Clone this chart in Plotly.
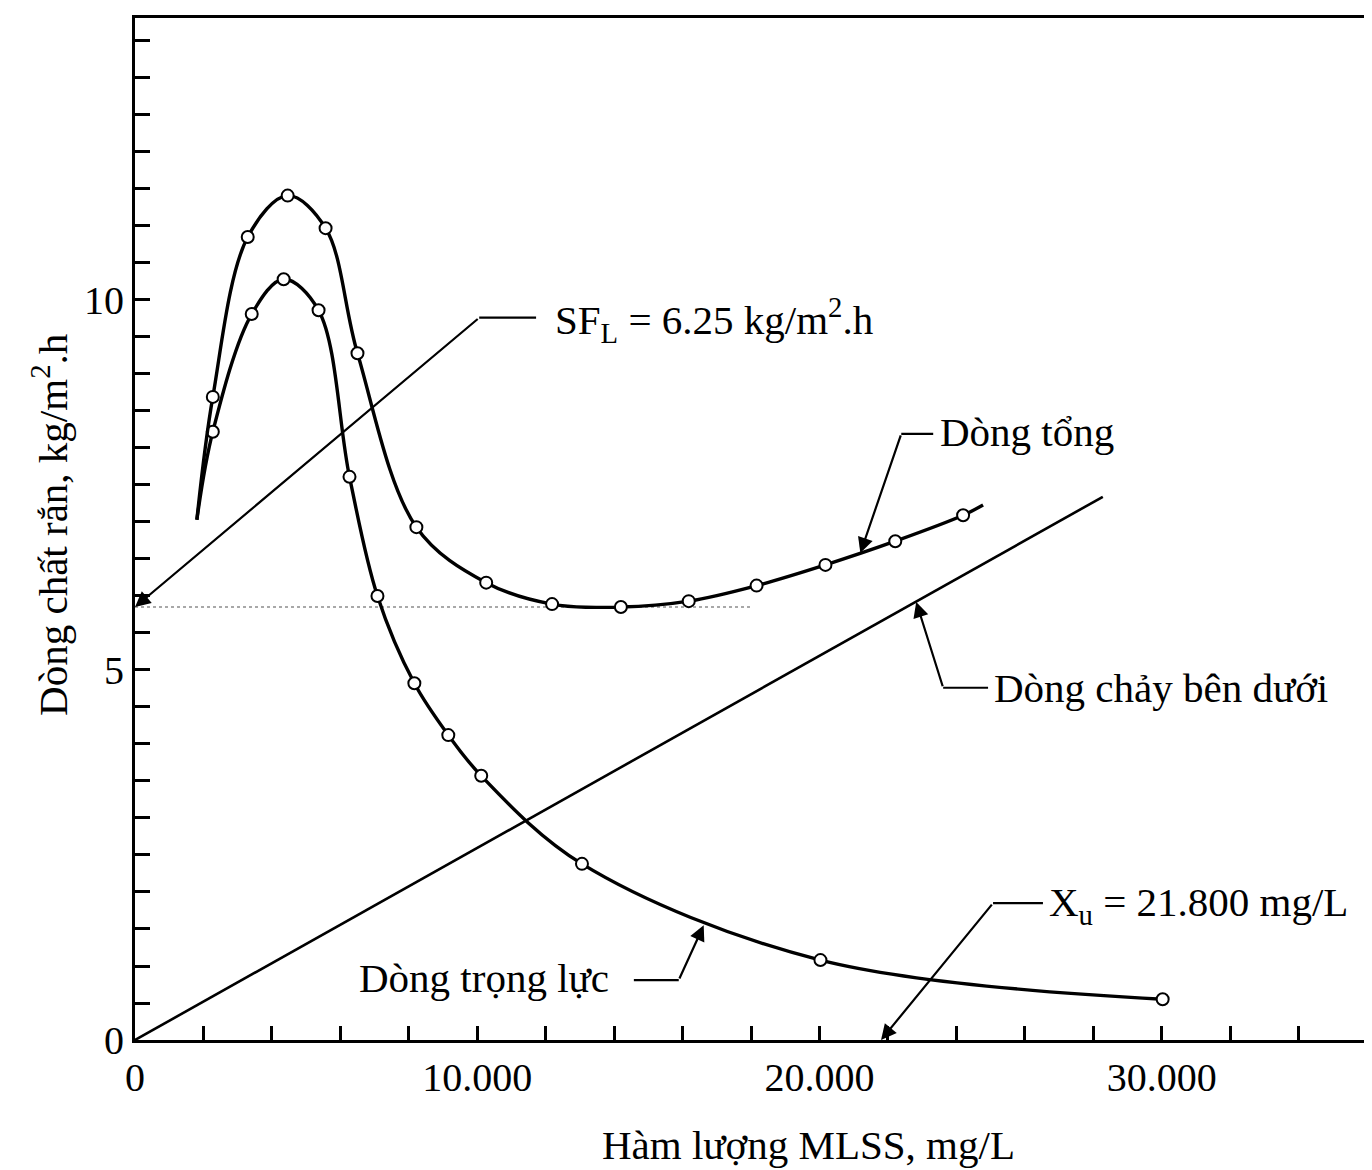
import plotly.graph_objects as go

# ---- data ----
gravity_x = [1808, 2274, 3411, 4344, 5364, 6268, 7085, 8163, 9155, 10117, 13061, 20029, 30029]
gravity_y = [7.03, 8.22, 9.81, 10.28, 9.86, 7.61, 6.00, 4.82, 4.12, 3.57, 2.38, 1.08, 0.55]
gravity_marked = [False] + [True] * 12

total_x = [1808, 2274, 3294, 4461, 5569, 6501, 8222, 10262, 12187, 14198, 16181, 18163, 20175, 22216, 24198, 24781]
total_y = [7.03, 8.69, 10.85, 11.41, 10.97, 9.28, 6.93, 6.18, 5.89, 5.85, 5.93, 6.14, 6.42, 6.74, 7.09, 7.23]
total_marked = [False] + [True] * 14 + [False]

underflow_x = [0, 28280]
underflow_y = [0, 7.34]

sfl_level = 5.85
sfl_dot_x = [0, 18000]

x_tickvals = [0, 10000, 20000, 30000]
x_ticktext = ["0", "10.000", "20.000", "30.000"]
y_tickvals = [0, 5, 10]
y_ticktext = ["0", "5", "10"]

# annotation texts with (text anchor x,y), elbow (x0 -> x1, y), arrow tip
labels = [
    # text, tx, ty, xanchor, elbow_x0, elbow_x1, elbow_y, tip_x, tip_y
    ("SF<sub>L</sub> = 6.25 kg/m<sup>2</sup>.h", 12200, 9.73, "left", 11720, 10058, 9.76, 0, 5.85),
    ("Dòng tổng", 23450, 8.22, "left", 23324, 22391, 8.19, 21195, 6.58),
    ("Dòng chảy bên dưới", 25050, 4.76, "left", 24927, 23615, 4.76, 22828, 5.92),
    ("Dòng trọng lực", 13900, 0.84, "right", 14577, 15889, 0.81, 16618, 1.55),
    ("X<sub>u</sub> = 21.800 mg/L", 26650, 1.82, "left", 26531, 25073, 1.85, 21800, 0.0),
]

FONT = "Liberation Serif"
FS = 41
TFS = 40

fig = go.Figure()

# dotted SF_L level
fig.add_trace(go.Scatter(x=sfl_dot_x, y=[sfl_level, sfl_level], mode="lines",
                         line=dict(color="#a8a8a8", width=2, dash="dot"),
                         hoverinfo="skip", showlegend=False))

# underflow line
fig.add_trace(go.Scatter(x=underflow_x, y=underflow_y, mode="lines",
                         line=dict(color="black", width=2.6), showlegend=False))

# curves
for xs, ys, marked in [(gravity_x, gravity_y, gravity_marked), (total_x, total_y, total_marked)]:
    fig.add_trace(go.Scatter(x=xs, y=ys, mode="lines",
                             line=dict(color="black", width=3.4, shape="spline", smoothing=1.0),
                             showlegend=False))
    mx = [x for x, m in zip(xs, marked) if m]
    my = [y for y, m in zip(ys, marked) if m]
    fig.add_trace(go.Scatter(x=mx, y=my, mode="markers",
                             marker=dict(symbol="circle", size=12, color="white",
                                         line=dict(color="black", width=2)),
                             showlegend=False))

annotations = []
for text, tx, ty, xa, ex0, ex1, ey, tipx, tipy in labels:
    fig.add_trace(go.Scatter(x=[ex0, ex1], y=[ey, ey], mode="lines",
                             line=dict(color="black", width=2.2), showlegend=False,
                             hoverinfo="skip"))
    annotations.append(dict(x=tipx, y=tipy, ax=ex1, ay=ey, xref="x", yref="y",
                            axref="x", ayref="y", text="", showarrow=True,
                            arrowhead=2, arrowsize=1.4, arrowwidth=2.2, arrowcolor="black"))
    annotations.append(dict(x=tx, y=ty, xref="x", yref="y", text=text, showarrow=False,
                            xanchor=xa, yanchor="middle",
                            font=dict(family=FONT, size=FS, color="black")))

# axis titles
annotations.append(dict(x=0.5466, y=-0.1027, xref="paper", yref="paper",
                        text="Hàm lượng MLSS, mg/L", showarrow=False,
                        xanchor="center", yanchor="middle",
                        font=dict(family=FONT, size=FS, color="black")))
annotations.append(dict(x=-0.069, y=0.504, xref="paper", yref="paper",
                        text="Dòng chất rắn, kg/m<sup>2</sup>.h", showarrow=False,
                        textangle=-90, xanchor="center", yanchor="middle",
                        font=dict(family=FONT, size=FS, color="black")))

fig.update_layout(
    width=1364, height=1162,
    margin=dict(l=127, r=2, t=10, b=130),
    paper_bgcolor="white", plot_bgcolor="white",
    annotations=annotations,
    showlegend=False,
)
fig.update_xaxes(range=[0, 36000], tickvals=x_tickvals, ticktext=x_ticktext,
                 ticks="inside", ticklen=14, tickwidth=2.5, tickcolor="black",
                 minor=dict(dtick=2000, tick0=0, ticks="inside", ticklen=14, tickwidth=2.5, tickcolor="black"),
                 showline=True, linecolor="black", linewidth=3, mirror=True,
                 showgrid=False, zeroline=False,
                 tickfont=dict(family=FONT, size=TFS, color="black"))
fig.update_yaxes(range=[0, 13.81], tickvals=y_tickvals, ticktext=y_ticktext,
                 ticks="inside", ticklen=15, tickwidth=2.5, tickcolor="black",
                 minor=dict(dtick=0.5, tick0=0, ticks="inside", ticklen=15, tickwidth=2.5, tickcolor="black"),
                 showline=True, linecolor="black", linewidth=3, mirror=True,
                 showgrid=False, zeroline=False,
                 tickfont=dict(family=FONT, size=TFS, color="black"))

fig.write_html("out.html")
